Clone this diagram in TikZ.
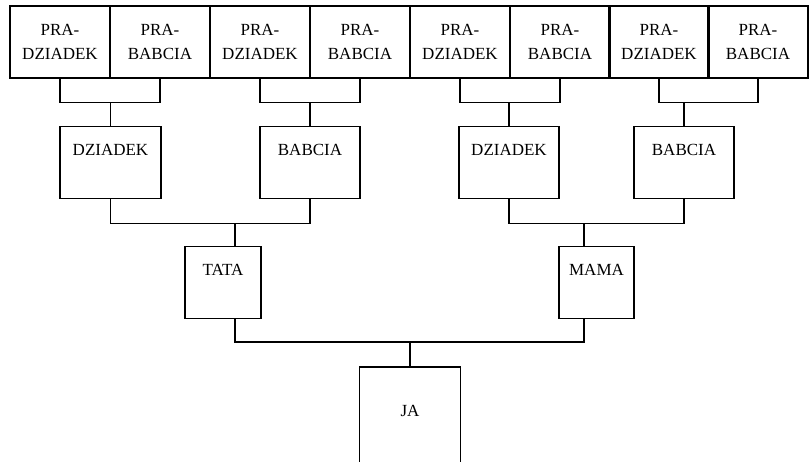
\documentclass[tikz,border=0pt]{standalone}
\usepackage{fontspec}
\setmainfont{Liberation Serif}
\begin{document}
\begin{tikzpicture}[x=1pt,y=-1pt,line width=1.2pt,
  topbox/.style={draw,minimum width=100pt,minimum height=72pt,inner sep=0pt,align=center,
    font=\fontsize{17}{24}\selectfont},
  midbox/.style={draw,anchor=north,inner xsep=0pt,inner ysep=0pt,text height=29pt,text depth=43pt,
    font=\fontsize{17}{24}\selectfont},
  link/.style={line width=1.2pt}]
\useasboundingbox (0,0) rectangle (809,461);
% top row
\node[topbox] (p1) at (60,42) {PRA-\\DZIADEK};
\node[topbox] (p2) at (160,42) {PRA-\\BABCIA};
\node[topbox] (p3) at (260,42) {PRA-\\DZIADEK};
\node[topbox] (p4) at (360,42) {PRA-\\BABCIA};
\node[topbox] (p5) at (460,42) {PRA-\\DZIADEK};
\node[topbox] (p6) at (560,42) {PRA-\\BABCIA};
\node[topbox] (p7) at (659,42) {PRA-\\DZIADEK};
\node[topbox] (p8) at (758,42) {PRA-\\BABCIA};
% grandparents
\node[midbox,minimum width=101pt] (d1) at (110.5,126) {DZIADEK};
\node[midbox,minimum width=100pt] (b1) at (310,126) {BABCIA};
\node[midbox,minimum width=100pt] (d2) at (509,126) {DZIADEK};
\node[midbox,minimum width=100pt] (b2) at (684,126) {BABCIA};
% parents
\node[midbox,minimum width=76pt] (tata) at (223,246) {TATA};
\node[midbox,minimum width=75pt] (mama) at (596.5,246) {MAMA};
% me
\node[anchor=north,minimum width=100pt,inner sep=0pt,text height=49pt,text depth=45pt,
  font=\fontsize{17}{24}\selectfont] (ja) at (410,367) {JA};
\draw[link] (ja.south west) -- (ja.north west) -- (ja.north east) -- (ja.south east);
% connectors top -> grandparents
\draw[link] (p1.south) -- ++(0,24) coordinate (c1) -| (p2.south);
\draw[link] (d1.north) -- (d1.north |- c1);
\draw[link] (p3.south) -- ++(0,24) coordinate (c2) -| (p4.south);
\draw[link] (b1.north) -- (b1.north |- c2);
\draw[link] (p5.south) -- ++(0,24) coordinate (c3) -| (p6.south);
\draw[link] (d2.north) -- (d2.north |- c3);
\draw[link] (p7.south) -- ++(0,24) coordinate (c4) -| (p8.south);
\draw[link] (b2.north) -- (b2.north |- c4);
% grandparents -> parents
\coordinate (t1) at (235,246);
\coordinate (m1) at (584,246);
\draw[link] (d1.south) -- ++(0,24) coordinate (c5) -| (b1.south);
\draw[link] (t1) -- (t1 |- c5);
\draw[link] (d2.south) -- ++(0,24) coordinate (c6) -| (b2.south);
\draw[link] (m1) -- (m1 |- c6);
% parents -> me
\coordinate (t2) at (235,318);
\coordinate (m2) at (584,318);
\draw[link] (t2) -- ++(0,24) coordinate (c7) -| (m2);
\draw[link] (ja.north) -- (ja.north |- c7);
\end{tikzpicture}
\end{document}
